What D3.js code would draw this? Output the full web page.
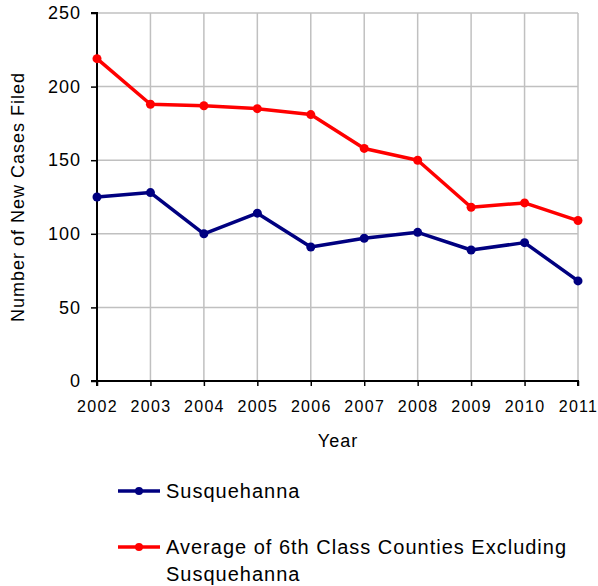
<!DOCTYPE html>
<html><head><meta charset="utf-8">
<script src="https://cdn.jsdelivr.net/npm/d3@7"></script>
<style>body{margin:0;background:#fff}text{font-family:"Liberation Sans",Arial,sans-serif;fill:#000}</style>
</head><body><svg id="c" width="598" height="586"></svg>
<script>
const years = [2002,2003,2004,2005,2006,2007,2008,2009,2010,2011];
const susquehanna = [125,128,100,114,91,97,101,89,94,68];
const average6th = [219,188,187,185,181,158,150,118,121,109];
const yTicks = [0,50,100,150,200,250];
const seriesNames = ["Susquehanna","Average of 6th Class Counties Excluding Susquehanna"];
const colors = ["#000080","#ff0000"];

const svg = d3.select("#c");
const L=97,R=578,T=13,B=381;
const x = d3.scalePoint().domain(years).range([L,R]);
const y = d3.scaleLinear().domain([0,250]).range([B,T]);

// grid
svg.append("g").selectAll("line").data(yTicks.slice(1)).join("line")
  .attr("x1",L).attr("x2",R).attr("y1",d=>y(d)).attr("y2",d=>y(d))
  .attr("stroke","#c0c0c0").attr("stroke-width",1.5);
svg.append("g").selectAll("line").data(years.slice(1)).join("line")
  .attr("x1",d=>x(d)).attr("x2",d=>x(d)).attr("y1",T).attr("y2",B)
  .attr("stroke","#c0c0c0").attr("stroke-width",1.5);

// axes
const ya = svg.append("g").attr("transform",`translate(${L},0)`)
  .call(d3.axisLeft(y).tickValues(yTicks).tickSize(6).tickPadding(10));
ya.select(".domain").attr("stroke","#000").attr("stroke-width",2).attr("d",`M-6,${T}H0V${B}H-6`);
ya.selectAll(".tick line").attr("stroke","#000").attr("stroke-width",1.5);
ya.selectAll(".tick text").style("font-size","18px").style("letter-spacing","1px").attr("font-family",null).attr("fill","#000");

const xa = svg.append("g").attr("transform",`translate(0,${B})`)
  .call(d3.axisBottom(x).tickValues(years).tickSize(5).tickPadding(9).tickFormat(d3.format("d")));
xa.select(".domain").attr("stroke","#000").attr("stroke-width",2).attr("d",`M${L},5V0H${R}V5`);
xa.selectAll(".tick line").attr("stroke","#000").attr("stroke-width",1.5);
xa.selectAll(".tick text").style("font-size","16px").style("letter-spacing","1.3px")
  .attr("font-family",null).attr("fill","#000").attr("y",31).attr("dy",null);

svg.append("text").attr("x",338).attr("y",447).attr("text-anchor","middle")
  .style("font-size","18px").style("letter-spacing","1px").text("Year");
svg.append("text").attr("transform","translate(24,197) rotate(-90)").attr("text-anchor","middle")
  .style("font-size","18px").style("letter-spacing","1px").text("Number of New Cases Filed");

// lines
const line = d3.line().x((d,i)=>x(years[i])).y(d=>y(d));
[susquehanna, average6th].forEach((s,k)=>{
  svg.append("path").datum(s).attr("d",line).attr("fill","none")
    .attr("stroke",colors[k]).attr("stroke-width",3.5).attr("stroke-linejoin","round");
  svg.append("g").selectAll("circle").data(s).join("circle")
    .attr("cx",(d,i)=>x(years[i])).attr("cy",d=>y(d)).attr("r",4.5).attr("fill",colors[k]);
});

// legend
const legY=[491,547];
seriesNames.forEach((n,k)=>{
  const g=svg.append("g");
  g.append("line").attr("x1",118).attr("x2",160).attr("y1",legY[k]).attr("y2",legY[k])
    .attr("stroke",colors[k]).attr("stroke-width",3.5);
  g.append("circle").attr("cx",139).attr("cy",legY[k]).attr("r",4).attr("fill",colors[k]);
  const t=g.append("text").attr("x",166).attr("y",legY[k]+7).style("font-size","20px").style("letter-spacing","1px");
  if(k===0) t.text(n);
  else {
    t.append("tspan").attr("x",166).text("Average of 6th Class Counties Excluding");
    t.append("tspan").attr("x",166).attr("dy",27).text("Susquehanna");
  }
});
</script></body></html>
